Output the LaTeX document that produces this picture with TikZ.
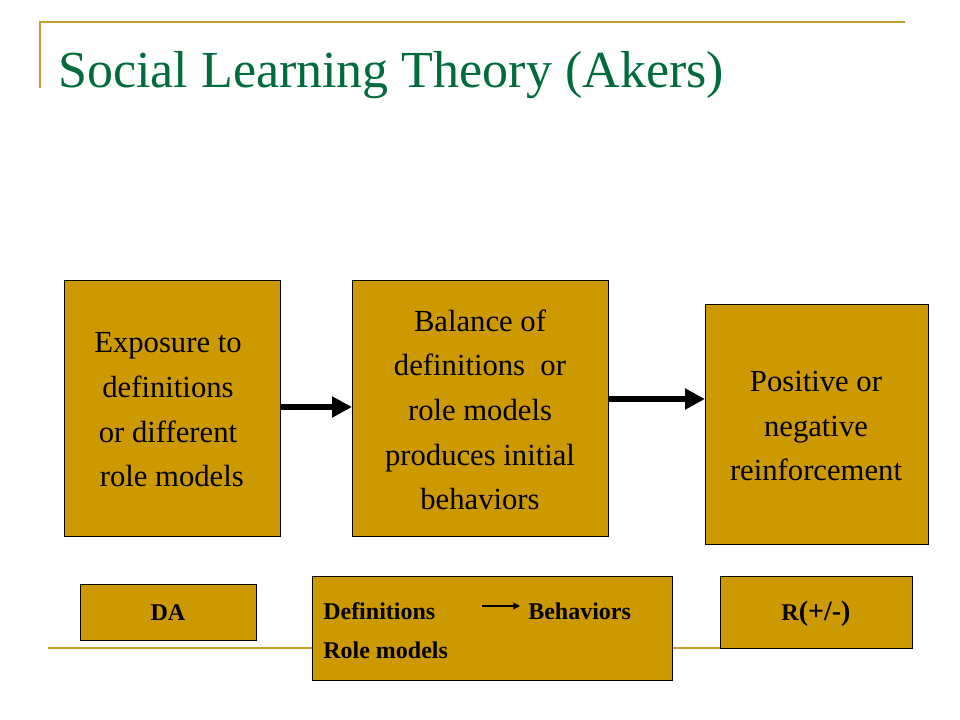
\documentclass[tikz,border=0pt]{standalone}
\usepackage{fontspec}
\setmainfont{Liberation Serif}
\definecolor{gold}{HTML}{CC9900}
\definecolor{line}{HTML}{C0A030}
\definecolor{ttl}{HTML}{006B3C}
\tikzset{box/.style={draw=black,fill=gold,line width=0.6pt},
 txt/.style={align=center,font=\fontsize{23}{33.5}\selectfont},
 btxt/.style={font=\fontsize{18}{29}\selectfont\bfseries},
 bigarrow/.style={line width=4pt,-{Triangle[length=15pt,width=15pt]}}}
\usetikzlibrary{arrows.meta}
\begin{document}
\begin{tikzpicture}[x=0.75pt,y=-0.75pt]
\useasboundingbox (0,0) rectangle (960,720);
\draw[line,line width=1pt] (40,88) -- (40,22) -- (905,22);
\draw[line,line width=1pt] (48,648) -- (905,648);
\node[anchor=base west,text=ttl,font=\fontsize{39}{45}\selectfont,inner sep=0] (title) at (58,88) {Social Learning Theory (Akers)};
\draw[box] (64,280) rectangle (280,536); \node[txt] (b1) at (168,410) {Exposure to\\definitions\\or different\\\ role models};
\draw[box] (352,280) rectangle (608,536); \node[txt] (b2) at (480,410) {Balance of\\definitions\ \ or\\role models\\produces initial\\behaviors};
\draw[box] (705,304) rectangle (928,544); \node[txt] (b3) at (816,426) {Positive or\\negative\\reinforcement};
\coordinate (a1s) at (280,407); \coordinate (a1e) at (352,407);
\coordinate (a2s) at (608,399); \coordinate (a2e) at (705,399);
\draw[bigarrow] (a1s) -- (a1e);
\draw[bigarrow] (a2s) -- (a2e);
\draw[box] (80,584) rectangle (256,640); \node[btxt] (da) at (168,613) {DA};
\draw[box] (312,576) rectangle (672,680);
\node[btxt,anchor=base west,inner sep=0] (def) at (323,619) {Definitions};
\node[btxt,anchor=base west,inner sep=0] (beh) at (528,619) {Behaviors};
\node[btxt,anchor=base west,inner sep=0] (rm) at (323,658) {Role models};
\draw[-{Triangle[length=5pt,width=5pt]},line width=1pt] (482,606) -- (520,606);
\draw[box] (720,576) rectangle (912,648); \node[btxt] (r) at (816,614) {R\fontsize{21}{25}\selectfont(+/-)};
\end{tikzpicture}
\end{document}
